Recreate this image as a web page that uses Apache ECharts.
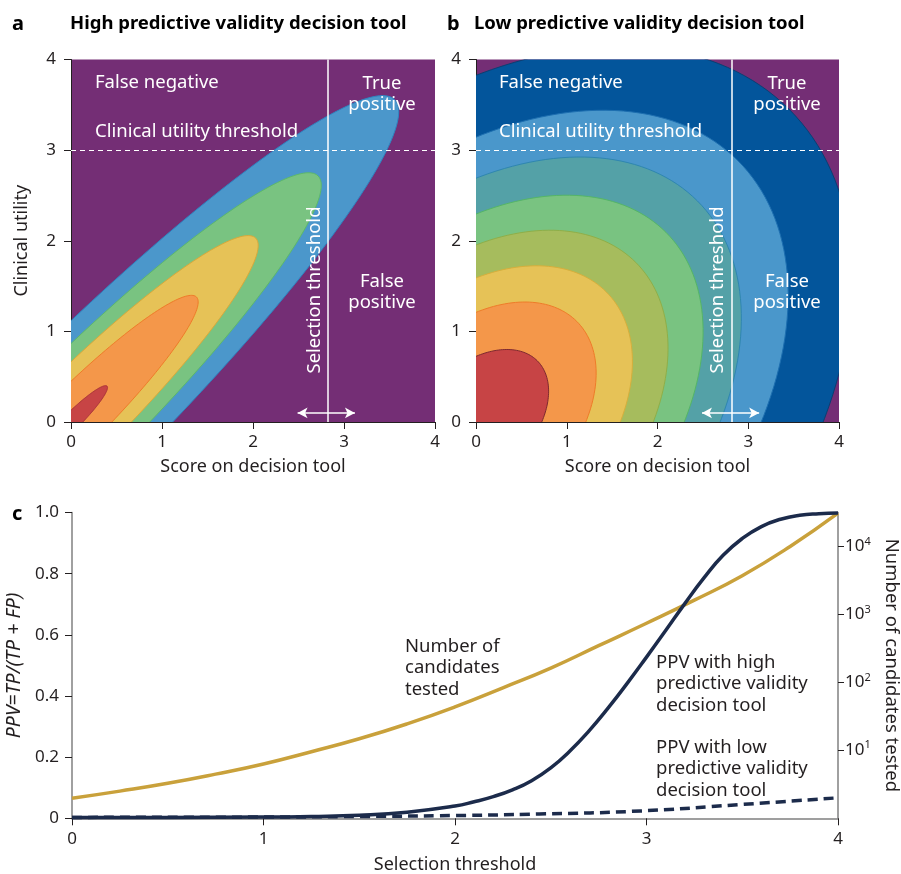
<!DOCTYPE html>
<html>
<head>
<meta charset="utf-8">
<script src="https://cdn.jsdelivr.net/npm/echarts@6/dist/echarts.min.js"></script>
<style>
    html, body { margin: 0; padding: 0; background: #fff; }
    #main { width: 901px; height: 874px; }
</style>
</head>
<body>
<div id="main"></div>
<script>
// panel a: contour ellipses (semi axes along the 45 degree diagonal), outermost first
var highSemiMajor = [5.03, 3.84, 2.87, 1.95, 0.56];
var highSemiMinor = [0.80, 0.62, 0.476, 0.322, 0.093];
var highFills = ["#4B97CB", "#79C381", "#E6C257", "#F4974A", "#C74445"];
var highStrokes = ["#2E86C1", "#5DB86A", "#D9A83A", "#EE7B2A", "#A8343A"];

// panel b: contour ellipses, outermost first
var lowSemiMajor = [4.88, 4.08, 3.45, 2.96, 2.49, 2.03, 1.57, 0.955];
var lowSemiMinor = [3.25, 2.65, 2.28, 1.94, 1.66, 1.35, 1.02, 0.607];
var lowFills = ["#03559B", "#4A97CB", "#54A1A7", "#79C381", "#A6BC5D", "#E6C257", "#F4974A", "#C74445"];
var lowStrokes = ["#0B3F72", "#1E6FB0", "#2F86B0", "#55B566", "#8FAE48", "#D6AE3C", "#EE7B2A", "#7E2A30"];

// thresholds drawn on panels a and b
var utilityThreshold = 3;
var selectionThreshold = 2.82;
var arrowRange = [2.49, 3.12];
var arrowLevel = 0.1;

// panel c: PPV curves
var highPpvX = [0, 0.5, 1.0, 1.25, 1.5, 1.75, 2.0, 2.1, 2.2, 2.3, 2.4, 2.5, 2.6, 2.7, 2.8, 2.9, 3.0, 3.1, 3.2, 3.3, 3.4, 3.5, 3.6, 3.7, 3.8, 3.9, 4.0];
var highPpv = [0.003, 0.003, 0.004, 0.006, 0.010, 0.020, 0.040, 0.054, 0.071, 0.093, 0.123, 0.165, 0.220, 0.286, 0.361, 0.442, 0.527, 0.614, 0.702, 0.786, 0.860, 0.915, 0.954, 0.978, 0.991, 0.996, 0.998];
var lowPpvX = [0, 1.0, 1.5, 2.0, 2.44, 2.97, 3.49, 4.0];
var lowPpv = [0.003, 0.004, 0.006, 0.009, 0.014, 0.024, 0.045, 0.067];

// panel c: log10 of number of candidates tested
var candX = [0, 0.25, 0.5, 0.75, 1.0, 1.25, 1.5, 1.75, 2.0, 2.25, 2.5, 2.75, 3.0, 3.25, 3.5, 3.75, 4.0];
var candLog = [0.295, 0.40, 0.515, 0.65, 0.80, 0.98, 1.17, 1.39, 1.64, 1.92, 2.21, 2.54, 2.87, 3.21, 3.57, 4.0, 4.49];

var scoreTicks = [0, 1, 2, 3, 4];
var candTicks = [1, 2, 3, 4];

var FONT = "Noto Sans";
var INK = "#231F20";

function pairs(xs, ys) {
    return xs.map(function (x, i) { return [x, ys[i]]; });
}

function ellipseSeries(idx, semiMajor, semiMinor, fills, strokes) {
    var data = semiMajor.map(function (a, i) { return [a, semiMinor[i], i]; });
    return {
        type: "custom",
        xAxisIndex: idx,
        yAxisIndex: idx,
        clip: true,
        silent: true,
        data: data,
        renderItem: function (params, api) {
            var a = api.value(0), b = api.value(1), i = api.value(2);
            var pts = [];
            for (var k = 0; k < 200; k++) {
                var t = k / 200 * Math.PI * 2;
                var u = a * Math.cos(t), v = b * Math.sin(t);
                pts.push(api.coord([(u - v) * Math.SQRT1_2, (u + v) * Math.SQRT1_2]));
            }
            return {
                type: "polygon",
                shape: { points: pts },
                style: { fill: fills[i], stroke: strokes[i], lineWidth: 1 }
            };
        }
    };
}

function thresholdSeries(idx) {
    return {
        type: "line",
        xAxisIndex: idx,
        yAxisIndex: idx,
        data: [],
        silent: true,
        markLine: {
            silent: true,
            symbol: "none",
            animation: false,
            label: { show: false },
            data: [
                { yAxis: utilityThreshold, lineStyle: { color: "#fff", type: [5, 4], width: 1 } },
                { xAxis: selectionThreshold, lineStyle: { color: "#fff", type: "solid", width: 1.5 } },
                [
                    { coord: [arrowRange[0], arrowLevel], symbol: "arrow", symbolSize: [8, 10] },
                    { coord: [arrowRange[1], arrowLevel], symbol: "arrow", symbolSize: [8, 10],
                      lineStyle: { color: "#fff", type: "solid", width: 1.5 } }
                ]
            ]
        }
    };
}

function scoreXAxis(idx) {
    return {
        gridIndex: idx, type: "value", min: 0, max: 4, interval: 1,
        axisLine: { show: true, onZero: false, lineStyle: { color: INK, width: 1 } },
        axisTick: { show: true, length: 7, lineStyle: { color: INK } },
        axisLabel: { fontSize: 17, color: INK, fontFamily: FONT, margin: 12, customValues: scoreTicks },
        splitLine: { show: false },
        name: "Score on decision tool", nameLocation: "middle", nameGap: 36,
        nameTextStyle: { fontSize: 18, color: INK, fontFamily: FONT }
    };
}

function utilityYAxis(idx, withName) {
    return {
        gridIndex: idx, type: "value", min: 0, max: 4, interval: 1,
        axisLine: { show: true, onZero: false, lineStyle: { color: INK, width: 1 } },
        axisTick: { show: true, length: 7, lineStyle: { color: INK } },
        axisLabel: { fontSize: 17, color: INK, fontFamily: FONT, margin: 15 },
        splitLine: { show: false },
        name: withName ? "Clinical utility" : "", nameLocation: "middle", nameGap: 40, nameRotate: 90,
        nameTextStyle: { fontSize: 18, color: INK, fontFamily: FONT }
    };
}

function label(x, y, text, opts) {
    var o = opts || {};
    return {
        type: "text", x: x, y: y, z: 100, rotation: o.rotation || 0, silent: true,
        style: {
            text: text, fill: o.color || "#fff", fontFamily: FONT,
            fontSize: o.size || 18.5, fontWeight: o.weight || "normal",
            align: o.align || "left", verticalAlign: o.valign || "middle",
            lineHeight: o.lineHeight || 21
        }
    };
}

var chart = echarts.init(document.getElementById("main"));

var option = {
    animation: false,
    grid: [
        { left: 71, top: 59.5, width: 364, height: 362.5, outerBoundsMode: "none", containLabel: false,
          show: true, backgroundColor: "#742E75", borderWidth: 0 },
        { left: 476, top: 59.5, width: 363, height: 362.5, outerBoundsMode: "none", containLabel: false,
          show: true, backgroundColor: "#742E75", borderWidth: 0 },
        { left: 72, top: 512.5, width: 766, height: 305.8, outerBoundsMode: "none", containLabel: false }
    ],
    xAxis: [
        scoreXAxis(0),
        scoreXAxis(1),
        {
            gridIndex: 2, type: "value", min: 0, max: 4, interval: 1,
            axisLine: { show: true, onZero: false, lineStyle: { color: "#808080", width: 1.5 } },
            axisTick: { show: true, length: 7, lineStyle: { color: INK } },
            axisLabel: { fontSize: 17, color: INK, fontFamily: FONT, margin: 12 },
            splitLine: { show: false },
            name: "Selection threshold", nameLocation: "middle", nameGap: 38,
            nameTextStyle: { fontSize: 18, color: INK, fontFamily: FONT }
        }
    ],
    yAxis: [
        utilityYAxis(0, true),
        utilityYAxis(1, false),
        {
            gridIndex: 2, type: "value", min: 0, max: 1, interval: 0.2,
            axisLine: { show: true, onZero: false, lineStyle: { color: "#808080", width: 1.5 } },
            axisTick: { show: true, length: 7, lineStyle: { color: INK } },
            axisLabel: {
                fontSize: 17, color: INK, fontFamily: FONT, margin: 13,
                formatter: function (v) { return v === 0 ? "0" : v.toFixed(1); }
            },
            splitLine: { show: false },
            name: "{i|PPV}={i|TP/(TP + FP)}", nameLocation: "middle", nameGap: 41, nameRotate: 90,
            nameTextStyle: {
                fontSize: 19.5, color: INK, fontFamily: FONT,
                rich: { i: { fontSize: 19.5, fontStyle: "italic", color: INK, fontFamily: FONT } }
            }
        },
        {
            gridIndex: 2, type: "value", min: 0, max: 4.5, position: "right",
            axisLine: { show: true, onZero: false, lineStyle: { color: "#808080", width: 1.5 } },
            axisTick: { show: true, length: 6, customValues: candTicks, lineStyle: { color: INK } },
            axisLabel: {
                fontSize: 17, color: INK, fontFamily: FONT, margin: 7, customValues: candTicks,
                formatter: function (v) { return "10{s|" + v + "}"; },
                rich: { s: { fontSize: 11, fontFamily: FONT, color: INK, padding: [0, 0, 10, 0] } }
            },
            splitLine: { show: false },
            name: "Number of candidates tested", nameLocation: "middle", nameGap: 44, nameRotate: -90,
            nameTextStyle: { fontSize: 18.5, color: INK, fontFamily: FONT }
        }
    ],
    series: [
        ellipseSeries(0, highSemiMajor, highSemiMinor, highFills, highStrokes),
        ellipseSeries(1, lowSemiMajor, lowSemiMinor, lowFills, lowStrokes),
        thresholdSeries(0),
        thresholdSeries(1),
        {
            type: "line", xAxisIndex: 2, yAxisIndex: 3, data: pairs(candX, candLog),
            smooth: 0.5, showSymbol: false, silent: true,
            lineStyle: { color: "#C9A13B", width: 3.5 }
        },
        {
            type: "line", xAxisIndex: 2, yAxisIndex: 2, data: pairs(lowPpvX, lowPpv),
            smooth: 0.5, showSymbol: false, silent: true,
            lineStyle: { color: "#1C2B4B", width: 3.5, type: [10, 6] }
        },
        {
            type: "line", xAxisIndex: 2, yAxisIndex: 2, data: pairs(highPpvX, highPpv),
            smooth: 0.5, showSymbol: false, silent: true,
            lineStyle: { color: "#1C2B4B", width: 3.5 }
        }
    ],
    graphic: [
        label(12, 24, "a", { color: "#000", size: 20, weight: "bold" }),
        label(70, 24, "High predictive validity decision tool", { color: "#000", size: 18.5, weight: "bold" }),
        label(447, 24, "b", { color: "#000", size: 20, weight: "bold" }),
        label(474, 24, "Low predictive validity decision tool", { color: "#000", size: 18.5, weight: "bold" }),
        label(12, 514, "c", { color: "#000", size: 20, weight: "bold" }),

        label(95, 83, "False negative"),
        label(95, 132, "Clinical utility threshold"),
        label(382, 94, "True\npositive", { align: "center" }),
        label(382, 292, "False\npositive", { align: "center" }),
        label(315, 290, "Selection threshold", { align: "center", rotation: Math.PI / 2 }),

        label(499, 83, "False negative"),
        label(499, 132, "Clinical utility threshold"),
        label(787, 94, "True\npositive", { align: "center" }),
        label(787, 292, "False\npositive", { align: "center" }),
        label(718, 290, "Selection threshold", { align: "center", rotation: Math.PI / 2 }),

        label(405, 668, "Number of\ncandidates\ntested", { color: INK, lineHeight: 21.5 }),
        label(656, 684, "PPV with high\npredictive validity\ndecision tool", { color: INK, lineHeight: 21.5 }),
        label(656, 769, "PPV with low\npredictive validity\ndecision tool", { color: INK, lineHeight: 21.5 })
    ]
};

chart.setOption(option);
</script>
</body>
</html>
